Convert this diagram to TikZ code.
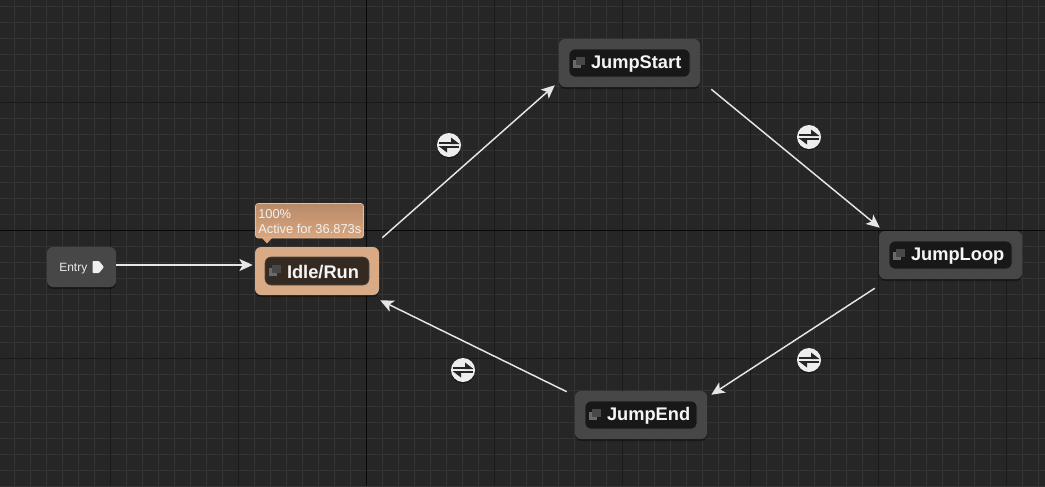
\documentclass[tikz,border=0pt]{standalone}
\usepackage{fontspec}
\setmainfont{Liberation Sans}
\usetikzlibrary{arrows.meta,shadows}
\definecolor{gridbg}{HTML}{262626}
\definecolor{gridminor}{HTML}{343434}
\definecolor{gridmajor}{HTML}{1A1A1A}
\definecolor{gridaxis}{HTML}{080808}
\definecolor{stateface}{HTML}{474747}
\definecolor{stateinner}{HTML}{181818}
\definecolor{activeface}{HTML}{D8AB86}
\definecolor{activeinner}{HTML}{352A22}
\definecolor{tooltop}{HTML}{B88A68}
\definecolor{tipbottom}{HTML}{D9A67F}
\definecolor{tipborder}{HTML}{E8BE98}
\definecolor{iconback}{HTML}{6A6A6A}
\definecolor{iconfront}{HTML}{484848}
\definecolor{linkcolor}{HTML}{E6E6E6}
\tikzset{
	statebox/.style={draw=none,fill=stateface,rounded corners=4.5pt,inner sep=0pt,
		drop shadow={shadow xshift=0pt,shadow yshift=-1.5pt,opacity=.35,fill=black}},
	innerbox/.style={draw=black!70,line width=.4pt,fill=stateinner,rounded corners=4.5pt,inner sep=0pt},
	statelabel/.style={text=white!96!black,font=\fontsize{13.7pt}{15pt}\selectfont\bfseries,inner sep=0pt,anchor=west},
	link/.style={draw=linkcolor,line width=1.1pt,-{Stealth[length=10pt,width=9pt,inset=2.5pt]}},
	swapnode/.style={circle,fill=white!93!black,minimum size=18pt,inner sep=0pt,
		drop shadow={shadow xshift=0pt,shadow yshift=-1.2pt,opacity=.35,fill=black}},
	swapline/.style={draw=black!85,line width=1.4pt}
}
\begin{document}
\begin{tikzpicture}[x=0.75pt,y=-0.75pt]
	\useasboundingbox (0,0) rectangle (1045,486);
	\fill[gridbg] (0,0) rectangle (1045,486);

	% grid
	\foreach \i in {0,...,64}
	{
		\draw[gridminor,line width=.75pt] ({14.5+16*\i},0) -- ({14.5+16*\i},486);
	}
	\foreach \i in {0,...,30}
	{
		\draw[gridminor,line width=.75pt] (0,{6.5+16*\i}) -- (1045,{6.5+16*\i});
	}
	\foreach \i in {0,...,7}
	{
		\draw[gridmajor,line width=.75pt] ({110.5+128*\i},0) -- ({110.5+128*\i},486);
	}
	\foreach \i in {0,...,2}
	{
		\draw[gridmajor,line width=.75pt] (0,{102.5+128*\i}) -- (1045,{102.5+128*\i});
	}
	\draw[gridaxis,line width=.75pt] (366.5,0) -- (366.5,486);
	\draw[gridaxis,line width=.75pt] (0,230.5) -- (1045,230.5);

	% entry
	\node[statebox,minimum width=51.75pt,minimum height=30pt] (entry) at (81.5,267) {};
	\node[text=white!92!black,font=\fontsize{9pt}{10pt}\selectfont,inner sep=0pt,anchor=west] (entry label) at (59,268.5) {Entry};
	\fill[white!94!black,rounded corners=.6pt] (92.5,261) -- (99,261) -- (104,267) -- (99,273) -- (92.5,273) -- cycle;

	% states
	\foreach \name/\x/\y/\w/\face/\inner/\txt in {
		idle/317/271/124/activeface/activeinner/Idle\slash Run,
		jumpstart/629.5/63/141/stateface/stateinner/JumpStart,
		jumploop/950.5/255/143/stateface/stateinner/JumpLoop,
		jumpend/641/415/132/stateface/stateinner/JumpEnd}
	{
		\node[statebox,fill=\face,minimum width=\w*0.75pt,minimum height=36pt] (\name) at (\x,\y) {};
		\node[innerbox,fill=\inner,minimum width=(\w-20)*0.75pt,minimum height=21pt] (\name inner) at (\x,\y) {};
		\node[statelabel] (\name label) at ([shift={(22,1)}]\name inner.west) {\txt};
		\fill[iconback] ([shift={(4,-3)}]\name inner.west) rectangle ++(8,8);
		\fill[iconfront] ([shift={(7,-6)}]\name inner.west) rectangle ++(9,8);
	}

	% tooltip
	\fill[top color=tooltop,bottom color=tipbottom,draw=tipborder,line width=.5pt,rounded corners=2pt]
		(255.5,203.5) rectangle (363.5,238);
	\fill[tipbottom] (262,238) -- (267,243.5) -- (272,238) -- cycle;
	\node[text=white!95!black,font=\fontsize{9.65pt}{11.25pt}\selectfont,align=left,inner sep=0pt,anchor=north west] (tooltip) at (258,209.5) {100\%\\Active for 36.873s};

	% links
	\draw[link] ([shift={(0,-2)}]entry.east) -- ([shift={(-2,-6)}]idle.west);
	\draw[link] ([shift={(3,-9)}]idle.north east) -- ([shift={(-4,-2)}]jumpstart.south west);
	\draw[link] ([shift={(11,2)}]jumpstart.south east) -- ([shift={(1,-3)}]jumploop.north west);
	\draw[link] ([shift={(-4,9)}]jumploop.south west) -- ([shift={(4,4)}]jumpend.north east);
	\draw[link] ([shift={(-8,1)}]jumpend.north west) -- ([shift={(1,5)}]idle.south east);

	% transitions
	\foreach \name/\x/\y in {swapa/449/145,swapb/809/137,swapc/809/360,swapd/463/370}
	{
		\node[swapnode] (\name) at (\x,\y) {};
		\draw[swapline] (\x-10,\y-2.2) -- (\x+6,\y-2.2);
		\fill[black!85] (\x+10.5,\y-1) -- (\x+2,\y-1) -- (\x+2,\y-7.5) -- cycle;
		\draw[swapline] (\x-6,\y+2.2) -- (\x+10,\y+2.2);
		\fill[black!85] (\x-10.5,\y+1) -- (\x-2,\y+1) -- (\x-2,\y+7.5) -- cycle;
	}
\end{tikzpicture}
\end{document}
